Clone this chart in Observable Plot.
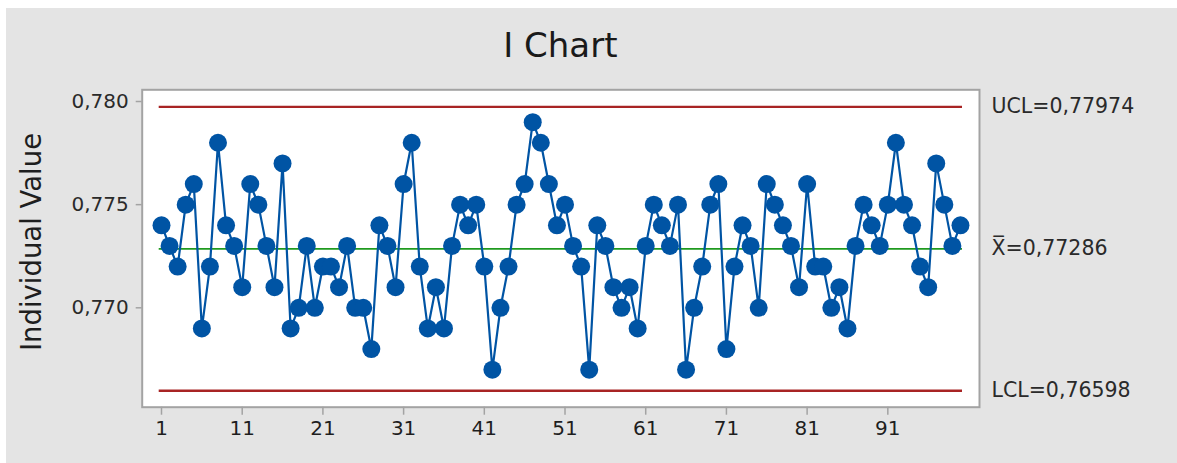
<!DOCTYPE html>
<html>
<head>
<meta charset="utf-8">
<script src="https://cdn.jsdelivr.net/npm/d3@7"></script>
<script src="https://cdn.jsdelivr.net/npm/@observablehq/plot@0.6"></script>
<style>
  html, body { margin: 0; padding: 0; background: #ffffff; }
  #panel {
    position: absolute; left: 6px; top: 8px; width: 1171px; height: 455px;
    background: #e4e4e4; font-family: "DejaVu Sans", sans-serif; color: #1e1e1e;
  }
  #title {
    position: absolute; left: 135.7px; width: 837.3px; top: 20px;
    text-align: center; font-size: 34px; line-height: 34px; color: #1a1a1a;
  }
  #chart { position: absolute; left: 0; top: 62px; }
</style>
</head>
<body>
<div id="panel">
  <div id="title">I Chart</div>
  <div id="chart"></div>
</div>
<script>
// Individual observations (in order of observation 1..100)
const values = [
  0.774, 0.773, 0.772, 0.775, 0.776, 0.769, 0.772, 0.778, 0.774, 0.773,
  0.771, 0.776, 0.775, 0.773, 0.771, 0.777, 0.769, 0.770, 0.773, 0.770,
  0.772, 0.772, 0.771, 0.773, 0.770, 0.770, 0.768, 0.774, 0.773, 0.771,
  0.776, 0.778, 0.772, 0.769, 0.771, 0.769, 0.773, 0.775, 0.774, 0.775,
  0.772, 0.767, 0.770, 0.772, 0.775, 0.776, 0.779, 0.778, 0.776, 0.774,
  0.775, 0.773, 0.772, 0.767, 0.774, 0.773, 0.771, 0.770, 0.771, 0.769,
  0.773, 0.775, 0.774, 0.773, 0.775, 0.767, 0.770, 0.772, 0.775, 0.776,
  0.768, 0.772, 0.774, 0.773, 0.770, 0.776, 0.775, 0.774, 0.773, 0.771,
  0.776, 0.772, 0.772, 0.770, 0.771, 0.769, 0.773, 0.775, 0.774, 0.773,
  0.775, 0.778, 0.775, 0.774, 0.772, 0.771, 0.777, 0.775, 0.773, 0.774
];
const ucl = 0.77974;
const centerLine = 0.77286;
const lcl = 0.76598;
const xTicks = [1, 11, 21, 31, 41, 51, 61, 71, 81, 91];
const yTicks = [0.770, 0.775, 0.780];
const limitNames = ["UCL", "X\u0305", "LCL"];
const limitValues = [ucl, centerLine, lcl];

const obs = values.map((v, i) => ({obs: i + 1, value: v}));
const limits = limitNames.map((n, i) => ({name: n, value: limitValues[i]}));
const comma = (s) => s.replace(".", ",");

const blue = "#0054a4";
const red = "#a82424";
const green = "#1f9a1f";
const gray = "#a3a3a3";

const chart = Plot.plot({
  width: 1171,
  height: 393,
  marginLeft: 135.7,
  marginRight: 198,
  marginTop: 19.3,
  marginBottom: 56.3,
  style: {fontFamily: "DejaVu Sans, sans-serif", background: "transparent", color: "#1e1e1e", overflow: "visible"},
  x: {domain: [-1.392, 102.36], label: null},
  y: {domain: [0.765182, 0.780567], label: null},
  marks: [
    Plot.frame({fill: "white", stroke: "none"}),
    Plot.ruleY([ucl, lcl], {stroke: red, strokeWidth: 2.4, insetLeft: 17, insetRight: 17}),
    Plot.ruleY([centerLine], {stroke: green, strokeWidth: 1.8, insetLeft: 17, insetRight: 17}),
    Plot.lineY(obs, {x: "obs", y: "value", stroke: blue, strokeWidth: 2.2}),
    Plot.dot(obs, {x: "obs", y: "value", r: 9, fill: blue, stroke: "none"}),
    Plot.frame({stroke: gray, strokeWidth: 2}),
    Plot.axisY({ticks: yTicks, tickFormat: (d) => comma(d3.format(".3f")(d)), tickSize: 6, tickPadding: 7.5,
      stroke: gray, strokeWidth: 1.5, fill: "#2a2a2a", fontSize: 20, label: null}),
    Plot.axisX({ticks: xTicks, tickFormat: (d) => String(d), tickSize: 8, tickPadding: 6,
      stroke: gray, strokeWidth: 1.5, fill: "#1e1e1e", fontSize: 20, label: null}),
    Plot.text(limits, {frameAnchor: "right", y: "value", text: (d) => `${d.name}=${comma(d3.format(".5f")(d.value))}`,
      textAnchor: "start", dx: 12, fontSize: 20.5, fill: "#2a2a2a"}),
    Plot.text(["Individual Value"], {frameAnchor: "left", text: (d) => d, rotate: -90, textAnchor: "middle",
      lineAnchor: "middle", dx: -110, dy: -6.5, fontSize: 27.5, fill: "#1e1e1e"})
  ]
});
document.getElementById("chart").appendChild(chart);
</script>
</body>
</html>
